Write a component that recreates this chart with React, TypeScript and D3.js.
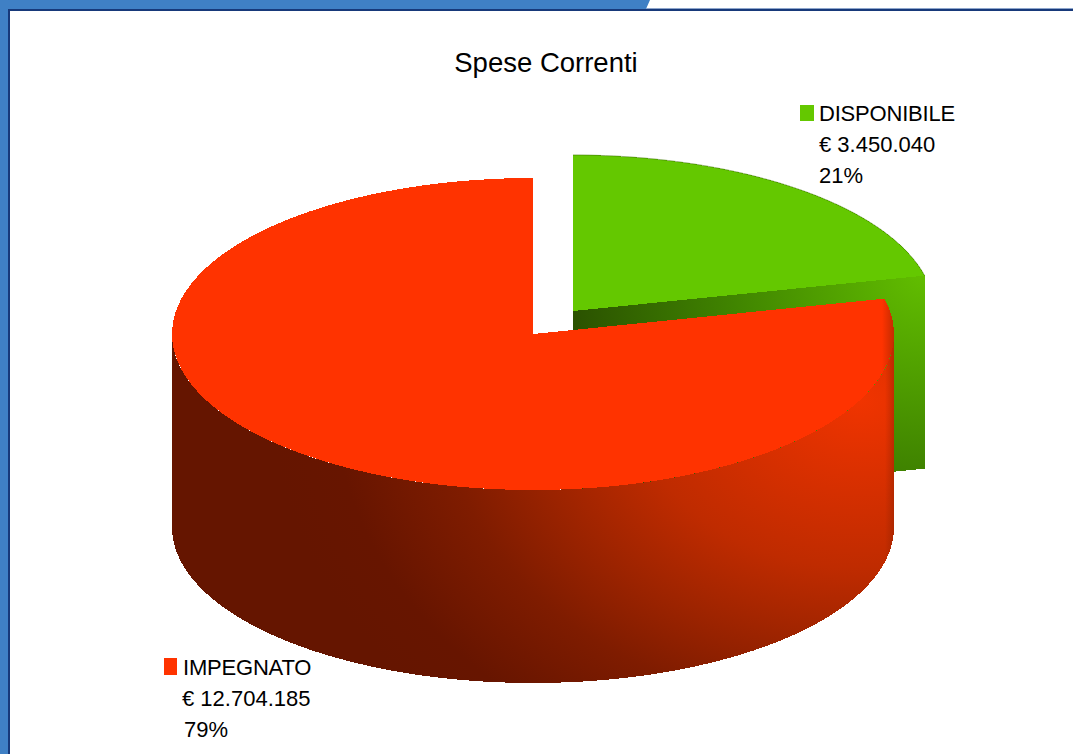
import React from "react";
import * as d3 from "d3";

const title = "Spese Correnti";
const categories = ["DISPONIBILE", "IMPEGNATO"];
const values = [3450040, 12704185];
const amounts = ["€ 3.450.040", "€ 12.704.185"];
const percents = ["21%", "79%"];
const topColors = ["#64c800", "#ff3300"];

const WIDTH = 1073;
const HEIGHT = 754;

// pie geometry, flattened to fake the 3D tilt
const cx = 533;
const cy = 334;
const rx = 361;
const ry = 156;
const depth = 193;
const explode = { x: 40, y: -23 };

const FONT = "'Liberation Sans', Arial, sans-serif";

export default function App() {
    const slices = d3.pie<number>().sort(null)(values);
    const arc = d3.arc<d3.PieArcDatum<number>>().innerRadius(0).outerRadius(rx);

    const [green, red] = slices;
    const rim = (a: number, ox = 0, oy = 0): [number, number] => [
        cx + ox + rx * Math.sin(a),
        cy + oy - ry * Math.cos(a),
    ];

    // front of the red slice: only the half facing the viewer is visible
    const frontAngles = d3.range(0, 181).map(i => Math.PI / 2 + (i / 180) * Math.PI);
    const redWall = d3.area<number>()
        .x(a => rim(a)[0])
        .y0(a => rim(a)[1])
        .y1(a => rim(a)[1] + depth)(frontAngles) as string;

    // cut face of the green slice, where it was pulled away from the red one
    const gc: [number, number] = [cx + explode.x, cy + explode.y];
    const ge = rim(green.endAngle, explode.x, explode.y);
    const greenFace = d3.area<[number, number]>()
        .x(p => p[0])
        .y0(p => p[1])
        .y1(p => p[1] + depth)([gc, ge]) as string;

    // thin dark back edge of the green slice
    const backAngles = d3.range(0, 61).map(i => (i / 60) * green.endAngle);
    const greenBack = d3.line<number>()
        .x(a => rim(a, explode.x, explode.y)[0])
        .y(a => rim(a, explode.x, explode.y)[1])(backAngles) as string;

    return (
        <svg width={WIDTH} height={HEIGHT} style={{ position: "absolute", left: 0, top: 0, background: "#fff" }} fontFamily={FONT}>
            <defs>
                <radialGradient id="redWall" gradientUnits="userSpaceOnUse" cx={0} cy={0} r={1} gradientTransform="translate(860,400) scale(640,480)">
                    <stop offset="0" stopColor="#f03400" />
                    <stop offset="0.35" stopColor="#bf2b00" />
                    <stop offset="0.5" stopColor="#9f2400" />
                    <stop offset="0.65" stopColor="#7f1c00" />
                    <stop offset="0.82" stopColor="#671500" />
                    <stop offset="0.92" stopColor="#651500" />
                </radialGradient>
                <linearGradient id="redEdge" gradientUnits="userSpaceOnUse" x1={885} x2={895} y1={0} y2={0}>
                    <stop offset="0" stopColor="#7a1c00" stopOpacity={0} />
                    <stop offset="1" stopColor="#7a1c00" stopOpacity={0.4} />
                </linearGradient>
                <linearGradient id="redTop" gradientUnits="userSpaceOnUse" x1={rx - 12} x2={rx} y1={0} y2={0}>
                    <stop offset="0" stopColor="#ff3300" />
                    <stop offset="1" stopColor="#c42b00" />
                </linearGradient>
                <radialGradient id="greenFace" gradientUnits="userSpaceOnUse" cx={925} cy={272} r={360}>
                    <stop offset="0" stopColor="#62be00" />
                    <stop offset="0.54" stopColor="#408400" />
                    <stop offset="1" stopColor="#2a5000" />
                </radialGradient>
            </defs>

            {/* slide frame */}
            <path d="M0 0H650L646 9H10V754H0Z" fill="#3f80c5" />
            <rect x={646} y={8} width={WIDTH - 646} height={1} fill="#8ea6cc" />
            <rect x={8} y={9} width={WIDTH - 8} height={2} fill="#17397a" />
            <rect x={8} y={9} width={2} height={HEIGHT - 9} fill="#17397a" />

            <text x={546} y={72} fontSize={27.5} textAnchor="middle" fill="#000">{title}</text>

            {/* green slice */}
            <path d={greenFace} fill="url(#greenFace)" shapeRendering="crispEdges" />
            <path
                d={arc(green) as string}
                transform={`translate(${gc[0]},${gc[1]}) scale(1,${ry / rx})`}
                fill={topColors[0]}
                shapeRendering="crispEdges"
            />
            <path d={greenBack} fill="none" stroke="#3f7a00" strokeWidth={1} strokeOpacity={0.6} />

            {/* red slice */}
            <path d={redWall} fill="url(#redWall)" shapeRendering="crispEdges" />
            <path d={redWall} fill="url(#redEdge)" shapeRendering="crispEdges" />
            <path
                d={arc(red) as string}
                transform={`translate(${cx},${cy}) scale(1,${ry / rx})`}
                fill="url(#redTop)"
                shapeRendering="crispEdges"
            />

            {/* legend */}
            <rect x={800} y={105} width={14} height={16} fill={topColors[0]} />
            <text fontSize={22} fill="#000">
                <tspan x={819} y={121} letterSpacing={-0.2}>{categories[0]}</tspan>
                <tspan x={819} y={152}>{amounts[0]}</tspan>
                <tspan x={819} y={183}>{percents[0]}</tspan>
            </text>
            <rect x={164} y={658} width={13} height={17} fill={topColors[1]} />
            <text fontSize={22} fill="#000">
                <tspan x={183} y={675} letterSpacing={-0.2}>{categories[1]}</tspan>
                <tspan x={182} y={706}>{amounts[1]}</tspan>
                <tspan x={184} y={737}>{percents[1]}</tspan>
            </text>
        </svg>
    );
}
